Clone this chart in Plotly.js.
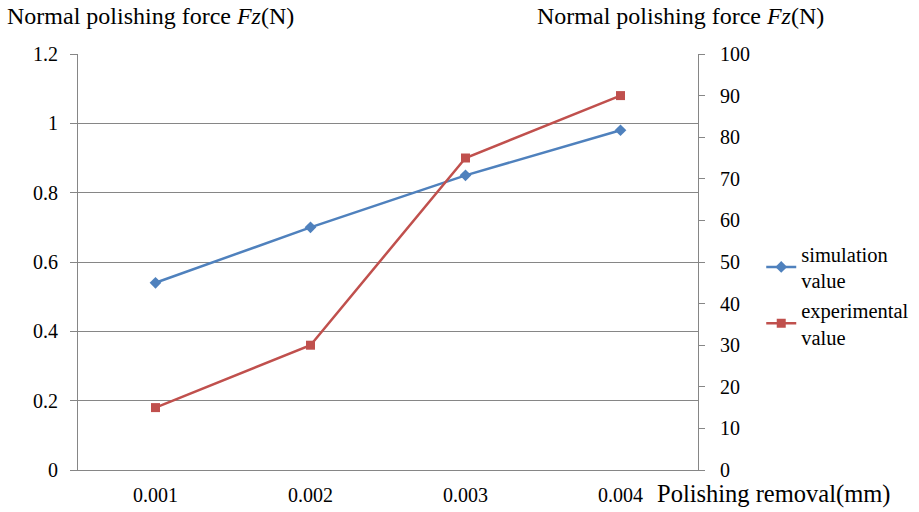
<!DOCTYPE html>
<html>
<head>
<meta charset="utf-8">
<script src="https://cdn.plot.ly/plotly-3.0.1.min.js"></script>
<style>html,body{margin:0;padding:0;background:#fff;}#chart{width:919px;height:512px;}</style>
</head>
<body>
<div id="chart"></div>
<script>
var categories = ["0.001", "0.002", "0.003", "0.004"];
var simulationValues = [0.54, 0.70, 0.85, 0.98];
var experimentalValues = [15, 30, 75, 90];
var leftTicks = [0, 0.2, 0.4, 0.6, 0.8, 1, 1.2];
var rightTicks = [0, 10, 20, 30, 40, 50, 60, 70, 80, 90, 100];

var FAM = "Liberation Serif";
function f(size) { return {family: FAM, size: size, color: "#000"}; }

var traces = [
  {x: categories, y: simulationValues, type: "scatter", mode: "lines+markers",
   name: "simulation<br>value", yaxis: "y",
   line: {color: "#4F81BD", width: 2.5},
   marker: {symbol: "diamond", size: 9, color: "#4F81BD"}},
  {x: categories, y: experimentalValues, type: "scatter", mode: "lines+markers",
   name: "experimental<br>value", yaxis: "y2",
   line: {color: "#C0504D", width: 2.5},
   marker: {symbol: "square", size: 9, color: "#C0504D"}}
];

var layout = {
  width: 919, height: 512,
  margin: {l: 78, r: 221, t: 54, b: 42, autoexpand: false},
  paper_bgcolor: "#fff", plot_bgcolor: "#fff",
  font: f(20),
  showlegend: true,
  legend: {x: 1.102, y: 0.42, xanchor: "left", yanchor: "middle",
           font: f(20.5), tracegroupgap: 6, itemwidth: 30},
  xaxis: {type: "category", range: [-0.5, 3.5], showgrid: false, automargin: false,
          showline: true, linecolor: "#868686", linewidth: 1,
          ticks: "", tickfont: f(20), ticklabelstandoff: 7, zeroline: false},
  yaxis: {range: [0, 1.2], tickvals: leftTicks, ticktext: leftTicks.map(String),
          automargin: false,
          showgrid: true, gridcolor: "#868686", gridwidth: 1,
          showline: true, linecolor: "#868686", linewidth: 1,
          ticks: "outside", ticklen: 7, tickcolor: "#868686",
          tickfont: f(20), ticklabelstandoff: 8, zeroline: false},
  yaxis2: {range: [0, 100], tickvals: rightTicks, overlaying: "y", side: "right",
           automargin: false,
           showgrid: false, showline: true, linecolor: "#868686", linewidth: 1,
           ticks: "outside", ticklen: 6, tickcolor: "#868686",
           tickfont: f(20), ticklabelstandoff: 11, zeroline: false},
  annotations: [
    {text: "Normal polishing force <i>Fz</i>(N)", xref: "paper", yref: "paper",
     x: -0.118, y: 1.0, xanchor: "left", yanchor: "bottom", yshift: 23, showarrow: false,
     font: f(24)},
    {text: "Normal polishing force <i>Fz</i>(N)", xref: "paper", yref: "paper",
     x: 0.737, y: 1.0, xanchor: "left", yanchor: "bottom", yshift: 23, showarrow: false,
     font: f(24)},
    {text: "Polishing removal(mm)", xref: "paper", yref: "paper",
     x: 0.931, y: 0, xanchor: "left", yanchor: "top", yshift: -8, showarrow: false,
     font: f(24.5)}
  ]
};

Plotly.newPlot("chart", traces, layout, {displayModeBar: false, staticPlot: true});
</script>
</body>
</html>
